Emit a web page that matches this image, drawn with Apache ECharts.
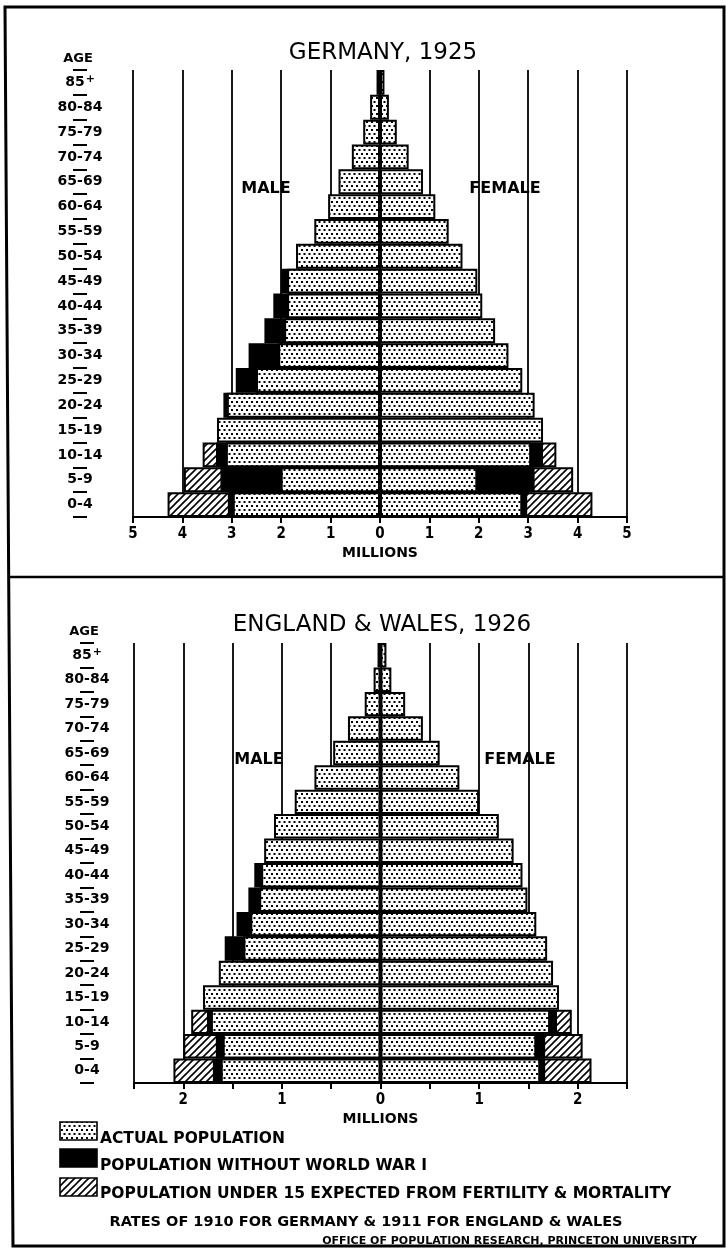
<!DOCTYPE html>
<html>
<head>
<meta charset="utf-8">
<script src="https://cdn.jsdelivr.net/npm/echarts@6/dist/echarts.min.js"></script>
<style>
  html, body { margin: 0; padding: 0; background: #fff; }
  #chart { width: 726px; height: 1252px; }
</style>
</head>
<body>
<div id="chart"></div>
<script>
// age groups, youngest first (bottom of the pyramid)
var ageGroups = ['0-4', '5-9', '10-14', '15-19', '20-24', '25-29', '30-34', '35-39', '40-44',
  '45-49', '50-54', '55-59', '60-64', '65-69', '70-74', '75-79', '80-84', '85+'];

// Germany 1925, millions
var deMaleActual = [2.98, 2.01, 3.12, 3.30, 3.10, 2.51, 2.06, 1.94, 1.88, 1.88, 1.70, 1.33, 1.05, 0.84, 0.57, 0.34, 0.20, 0.07];
var deMaleNoWar = [3.08, 3.23, 3.32, null, 3.17, 2.92, 2.66, 2.34, 2.16, 2.00, null, null, null, null, null, null, null, null];
var deMaleExpected = [4.30, 3.97, 3.59, null, null, null, null, null, null, null, null, null, null, null, null, null, null, null];
var deFemaleActual = [2.88, 1.97, 3.06, 3.30, 3.13, 2.88, 2.60, 2.33, 2.07, 1.97, 1.67, 1.39, 1.12, 0.87, 0.58, 0.34, 0.18, 0.09];
var deFemaleNoWar = [2.98, 3.13, 3.30, null, null, null, null, null, null, null, null, null, null, null, null, null, null, null];
var deFemaleExpected = [4.30, 3.91, 3.57, null, null, null, null, null, null, null, null, null, null, null, null, null, null, null];

// England & Wales 1926, millions
var ewMaleActual = [1.62, 1.60, 1.72, 1.80, 1.64, 1.39, 1.32, 1.23, 1.21, 1.18, 1.08, 0.87, 0.67, 0.48, 0.33, 0.16, 0.07, 0.03];
var ewMaleNoWar = [1.70, 1.67, 1.76, null, null, 1.58, 1.46, 1.34, 1.28, null, null, null, null, null, null, null, null, null];
var ewMaleExpected = [2.10, 2.00, 1.92, null, null, null, null, null, null, null, null, null, null, null, null, null, null, null];
var ewFemaleActual = [1.62, 1.58, 1.72, 1.81, 1.75, 1.69, 1.58, 1.49, 1.44, 1.35, 1.20, 1.00, 0.80, 0.60, 0.43, 0.25, 0.11, 0.06];
var ewFemaleNoWar = [1.67, 1.67, 1.79, null, null, null, null, null, null, null, null, null, null, null, null, null, null, null];
var ewFemaleExpected = [2.14, 2.05, 1.94, null, null, null, null, null, null, null, null, null, null, null, null, null, null, null];

var FONT = "'DejaVu Sans', sans-serif";
var NARROW = "'DejaVu Sans Condensed', 'DejaVu Sans', sans-serif";

function dotPattern() {
  var c = document.createElement('canvas');
  c.width = 10; c.height = 8;
  var g = c.getContext('2d');
  g.fillStyle = '#fff';
  g.fillRect(0, 0, 10, 8);
  g.fillStyle = '#000';
  g.fillRect(1, 1, 2, 2);
  g.fillRect(6, 1, 2, 2);
  g.fillRect(3.5, 5, 2, 2);
  g.fillRect(8.5, 5, 2, 2);
  g.fillRect(-1.5, 5, 2, 2);
  return c;
}

function hatchPattern() {
  var c = document.createElement('canvas');
  c.width = 7; c.height = 7;
  var g = c.getContext('2d');
  g.fillStyle = '#fff';
  g.fillRect(0, 0, 7, 7);
  g.strokeStyle = '#000';
  g.lineWidth = 1.6;
  g.beginPath();
  g.moveTo(-1, 8); g.lineTo(8, -1);
  g.moveTo(-1, 1); g.lineTo(1, -1);
  g.moveTo(6, 8); g.lineTo(8, 6);
  g.stroke();
  return c;
}

var dots = { image: dotPattern(), repeat: 'repeat' };
var hatch = { image: hatchPattern(), repeat: 'repeat' };

function neg(arr) {
  return arr.map(function (v) { return v == null ? null : -v; });
}

function barSeries(name, idx, data, fill) {
  return {
    name: name,
    type: 'bar',
    xAxisIndex: idx,
    yAxisIndex: idx,
    data: data,
    barGap: '-100%',
    barCategoryGap: '0%',
    silent: true,
    itemStyle: { color: fill, borderColor: '#000', borderWidth: 2 }
  };
}

function pyramid(idx, mAct, mWar, mExp, fAct, fWar, fExp) {
  return [
    barSeries('Expected', idx, neg(mExp), hatch),
    barSeries('Without war', idx, neg(mWar), '#000'),
    barSeries('Actual', idx, neg(mAct), dots),
    barSeries('Expected', idx, fExp, hatch),
    barSeries('Without war', idx, fWar, '#000'),
    barSeries('Actual', idx, fAct, dots)
  ];
}

function yAxisFor(idx, offset) {
  return {
    type: 'category',
    gridIndex: idx,
    data: ageGroups,
    position: 'left',
    offset: offset,
    axisLine: { show: false, onZero: false },
    axisTick: { show: true, length: 14, lineStyle: { color: '#000', width: 2 } },
    axisLabel: {
      margin: 7,
      align: 'center',
      color: '#000',
      fontFamily: FONT,
      fontWeight: 'bold',
      fontSize: 14,
      formatter: function (v) { return v === '85+' ? '{a|85}{s|+}' : v; },
      rich: {
        a: { fontFamily: FONT, fontWeight: 'bold', fontSize: 14, color: '#000' },
        s: { fontFamily: FONT, fontWeight: 'bold', fontSize: 11, color: '#000', padding: [0, 0, 7, 1] }
      }
    },
    splitLine: { show: false }
  };
}

function xAxisFor(idx, min, max, interval) {
  return {
    type: 'value',
    gridIndex: idx,
    min: min,
    max: max,
    interval: interval,
    name: 'MILLIONS',
    nameLocation: 'middle',
    nameGap: 29,
    nameTextStyle: { color: '#000', fontFamily: FONT, fontWeight: 'bold', fontSize: 14 },
    axisLine: { show: true, onZero: false, lineStyle: { color: '#000', width: 2.2 } },
    axisTick: { show: true, length: 6, lineStyle: { color: '#000', width: 2 } },
    axisLabel: {
      margin: 10,
      color: '#000',
      fontFamily: NARROW,
      fontWeight: 'bold',
      fontSize: 15,
      showMinLabel: true,
      showMaxLabel: true,
      formatter: function (v) {
        return Math.abs(v - Math.round(v)) < 1e-6 ? String(Math.abs(Math.round(v))) : '';
      }
    },
    splitLine: { show: true, lineStyle: { color: '#000', width: 1.8 } }
  };
}

// white boxes behind MALE / FEMALE break the grid lines, as in the print
function sideLabel(text, cx, cy, boxW, boxH) {
  return {
    type: 'group',
    z: 100,
    children: [
      { type: 'rect', shape: { x: cx - boxW / 2, y: cy - boxH / 2, width: boxW, height: boxH },
        style: { fill: '#fff' } },
      { type: 'text', style: { text: text, x: cx, y: cy, textAlign: 'center', textVerticalAlign: 'middle',
        font: 'bold 16px ' + FONT, fill: '#000' } }
    ]
  };
}

function plainText(text, x, y, size, align, weight) {
  return {
    type: 'text', z: 100,
    style: { text: text, x: x, y: y, textAlign: align || 'left', textVerticalAlign: 'middle',
      font: (weight || 'bold') + ' ' + size + 'px ' + FONT, fill: '#000' }
  };
}

function legendBox(y, fill) {
  return { type: 'rect', z: 100, shape: { x: 60, y: y, width: 37, height: 18 },
    style: { fill: fill, stroke: '#000', lineWidth: 1.6 } };
}

var chart = echarts.init(document.getElementById('chart'), null, { renderer: 'canvas' });

chart.setOption({
  animation: false,
  backgroundColor: '#fff',
  title: [
    { text: 'GERMANY, 1925', left: 378, top: 37, textAlign: 'center',
      textStyle: { color: '#000', fontFamily: FONT, fontWeight: 'normal', fontSize: 23 } },
    { text: 'ENGLAND & WALES, 1926', left: 377, top: 609, textAlign: 'center',
      textStyle: { color: '#000', fontFamily: FONT, fontWeight: 'normal', fontSize: 23 } }
  ],
  grid: [
    { left: 133, right: 99, top: 70, height: 447 },
    { left: 134, right: 99, top: 643, height: 440 }
  ],
  xAxis: [xAxisFor(0, -5, 5, 1), xAxisFor(1, -2.5, 2.5, 0.5)],
  yAxis: [yAxisFor(0, 46), yAxisFor(1, 40)],
  series: pyramid(0, deMaleActual, deMaleNoWar, deMaleExpected, deFemaleActual, deFemaleNoWar, deFemaleExpected)
    .concat(pyramid(1, ewMaleActual, ewMaleNoWar, ewMaleExpected, ewFemaleActual, ewFemaleNoWar, ewFemaleExpected)),
  graphic: [
    // frame and divider
    { type: 'polygon', z: 100, shape: { points: [[5, 7], [724, 7], [724, 1246], [13, 1246]] },
      style: { fill: null, stroke: '#000', lineWidth: 3 } },
    { type: 'line', z: 100, shape: { x1: 8, y1: 577, x2: 724, y2: 577 }, style: { stroke: '#000', lineWidth: 2.5 } },

    plainText('AGE', 78, 59, 13, 'center'),
    plainText('AGE', 84, 632, 13, 'center'),
    sideLabel('MALE', 266, 189, 78, 60),
    sideLabel('FEMALE', 505, 189, 100, 60),
    sideLabel('MALE', 259, 760, 78, 62),
    sideLabel('FEMALE', 520, 760, 100, 62),

    // legend
    legendBox(1122, dots),
    legendBox(1149, '#000'),
    legendBox(1178, hatch),
    plainText('ACTUAL POPULATION', 100, 1139, 15.5),
    plainText('POPULATION WITHOUT WORLD WAR I', 100, 1166, 15.5),
    plainText('POPULATION UNDER 15 EXPECTED FROM FERTILITY & MORTALITY', 100, 1194, 15.5),
    plainText('RATES OF 1910 FOR GERMANY & 1911 FOR ENGLAND & WALES', 366, 1222, 14.5, 'center'),
    plainText('OFFICE OF POPULATION RESEARCH, PRINCETON UNIVERSITY', 697, 1241, 11, 'right')
  ]
});
</script>
</body>
</html>
